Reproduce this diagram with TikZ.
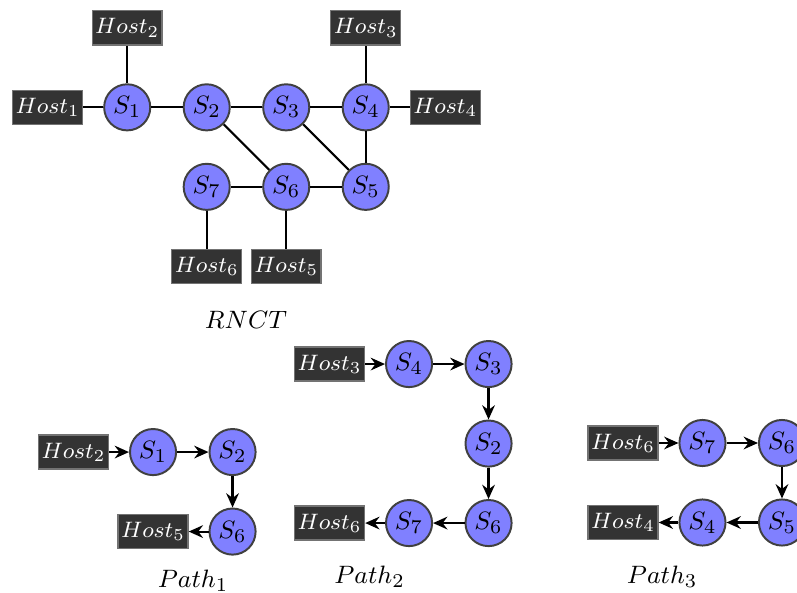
\documentclass[tikz,border=0pt]{standalone}
\usetikzlibrary{positioning,arrows.meta}

\newcommand{\hostlbl}[1]{$Host_{#1}$}
\newcommand{\swlbl}[1]{$S_{#1}$}

\begin{document}
\begin{tikzpicture}[
        on grid, node distance=1cm,
        font=\fontsize{9.5}{11}\selectfont,
        sw/.style={circle, draw=black!75, fill=blue!50, line width=0.7pt, minimum size=5.8mm, inner sep=0pt},
        host/.style={rectangle, draw=black!55, fill=black!80, text=white, line width=0.5pt,
            minimum width=8.8mm, minimum height=4.3mm, inner sep=0.5pt, font=\fontsize{8.3}{10}\selectfont},
        link/.style={line width=0.75pt},
        flow/.style={line width=0.75pt, -{Stealth[length=1.8mm, width=1.6mm, inset=0.6mm]}}]
    \useasboundingbox (0,0) rectangle (10.025,-7.447);

    % network
    \node[sw] (s1) at (1.6,-1.35) {\swlbl1};
    \node[sw, right=of s1] (s2) {\swlbl2};
    \node[sw, right=of s2] (s3) {\swlbl3};
    \node[sw, right=of s3] (s4) {\swlbl4};
    \node[sw, below=of s2] (s7) {\swlbl7};
    \node[sw, right=of s7] (s6) {\swlbl6};
    \node[sw, right=of s6] (s5) {\swlbl5};
    \node[host, left=of s1] (h1) {\hostlbl1};
    \node[host, above=of s1] (h2) {\hostlbl2};
    \node[host, above=of s4] (h3) {\hostlbl3};
    \node[host, right=of s4] (h4) {\hostlbl4};
    \node[host, below=of s6] (h5) {\hostlbl5};
    \node[host, below=of s7] (h6) {\hostlbl6};
    \foreach \a/\b in {h1/s1, h2/s1, s1/s2, s2/s3, s3/s4, s4/h3, s4/h4, s4/s5, s3/s5, s2/s6, s7/s6, s6/s5, s7/h6, s6/h5}
        \draw[link] (\a) -- (\b);
    \node (rnct) at (3.094,-4.025) {$RNCT$};

    % path 1
    \node[sw] (p1s1) at (1.925,-5.686) {\swlbl1};
    \node[host, left=of p1s1] (p1h2) {\hostlbl2};
    \node[sw, right=of p1s1] (p1s2) {\swlbl2};
    \node[sw, below=of p1s2] (p1s6) {\swlbl6};
    \node[host, left=of p1s6] (p1h5) {\hostlbl5};
    \foreach \a/\b in {p1h2/p1s1, p1s1/p1s2, p1s2/p1s6, p1s6/p1h5}
        \draw[flow] (\a) -- (\b);
    \node (path1) at (2.43,-7.30) {$Path_1$};

    % path 2
    \node[sw] (p2s4) at (5.145,-4.579) {\swlbl4};
    \node[host, left=of p2s4] (p2h3) {\hostlbl3};
    \node[sw, right=of p2s4] (p2s3) {\swlbl3};
    \node[sw, below=of p2s3] (p2s2) {\swlbl2};
    \node[sw, below=of p2s2] (p2s6) {\swlbl6};
    \node[sw, left=of p2s6] (p2s7) {\swlbl7};
    \node[host, left=of p2s7] (p2h6) {\hostlbl6};
    \foreach \a/\b in {p2h3/p2s4, p2s4/p2s3, p2s3/p2s2, p2s2/p2s6, p2s6/p2s7, p2s7/p2h6}
        \draw[flow] (\a) -- (\b);
    \node (path2) at (4.65,-7.26) {$Path_2$};

    % path 3
    \node[host] (p3h6) at (7.836,-5.572) {\hostlbl6};
    \node[sw, right=of p3h6] (p3s7) {\swlbl7};
    \node[sw, right=of p3s7] (p3s6) {\swlbl6};
    \node[sw, below=of p3s6] (p3s5) {\swlbl5};
    \node[sw, left=of p3s5] (p3s4) {\swlbl4};
    \node[host, left=of p3s4] (p3h4) {\hostlbl4};
    \foreach \a/\b in {p3h6/p3s7, p3s7/p3s6, p3s6/p3s5, p3s5/p3s4, p3s4/p3h4}
        \draw[flow] (\a) -- (\b);
    \node (path3) at (8.33,-7.26) {$Path_3$};
\end{tikzpicture}
\end{document}
